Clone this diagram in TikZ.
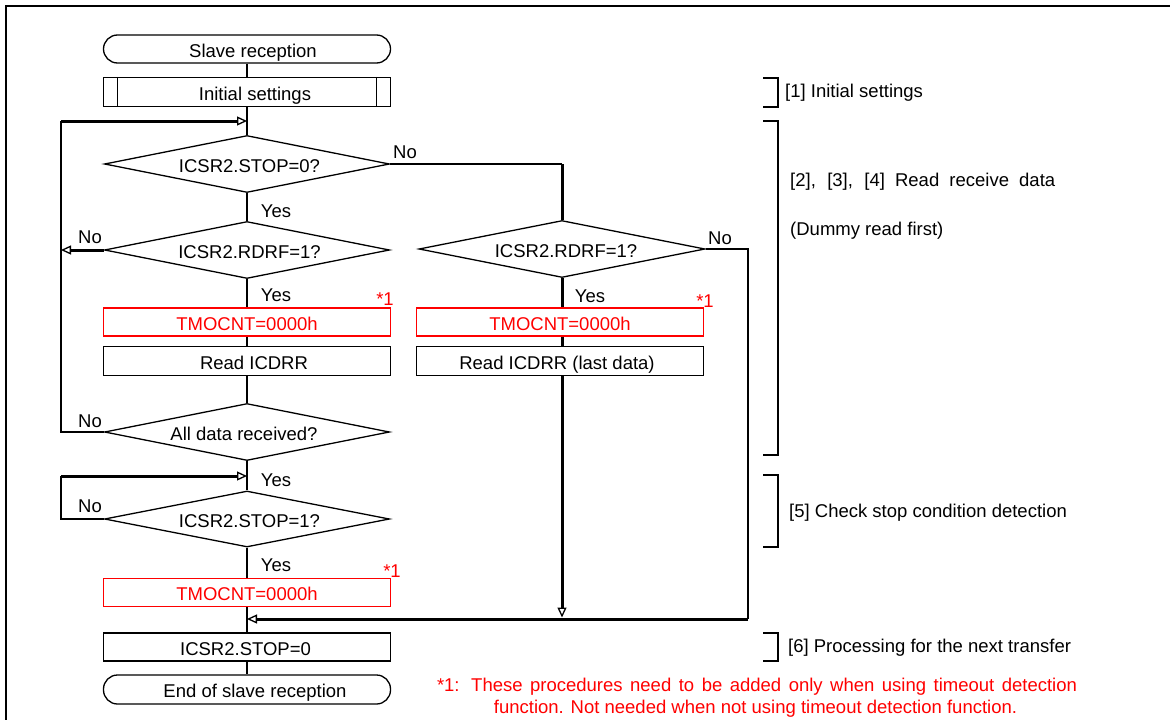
\documentclass[tikz,border=0pt]{standalone}
\usepackage{fontspec}
\setmainfont{Liberation Sans}
\usetikzlibrary{shapes.geometric,arrows.meta}
\definecolor{fnred}{RGB}{255,0,0}
\newcommand{\shiftr}[1]{\hspace*{#1pt}}
\begin{document}
\begin{tikzpicture}[x=1pt,y=-1pt,
  font=\fontsize{18.5pt}{22pt}\selectfont,
  conn/.style={line width=1.3pt},
  heavy/.style={line width=3pt},
  arr/.style={-{Triangle[open,length=10pt,width=9pt,line width=1.3pt]}},
  boxbase/.style={draw, line width=1.3pt, minimum width=287pt, minimum height=28pt, inner sep=0pt, text height=16pt, text depth=0pt},
  proc/.style={boxbase, rectangle},
  redproc/.style={boxbase, rectangle, draw=fnred, text=fnred},
  term/.style={boxbase, rectangle, rounded corners=14pt},
  decision/.style={draw, diamond, aspect=5, minimum width=285pt, minimum height=57pt, inner sep=0pt, line width=1.3pt, text height=16pt, text depth=0pt},
  lab/.style={inner sep=0pt, text height=13.3pt, text depth=0pt},
  brk/.style={line width=2pt}]
\useasboundingbox (0,0) rectangle (1170,720);
% frame
\draw[line width=2pt] (6,720) -- (6,6) -- (1170,6);

% main column
\node[term] (start) at (247,49) {\shiftr{12}Slave reception};
\node[proc, minimum height=29pt] (init) at (247,92) {\shiftr{16}Initial settings};
\draw[conn] ([xshift=14.5pt]init.north west) -- ([xshift=14.5pt]init.south west);
\draw[conn] ([xshift=-14.5pt]init.north east) -- ([xshift=-14.5pt]init.south east);
\node[decision] (d1) at (247,164) {\shiftr{5}ICSR2.STOP=0?};
\node[decision] (d2) at (247,250) {\shiftr{5}ICSR2.RDRF=1?};
\node[redproc] (red1) at (247,322) {TMOCNT=0000h};
\node[proc, minimum height=29pt] (read1) at (247,361) {\shiftr{14}Read ICDRR};
\node[decision] (d3) at (247,432) {All data received?\shiftr{6}};
\node[decision, minimum height=56pt] (d4) at (247,519) {\shiftr{5}ICSR2.STOP=1?};
\node[redproc] (red3) at (247,592.5) {TMOCNT=0000h};
\node[proc] (stop0) at (247,647) {ICSR2.STOP=0\shiftr{3}};
\node[term, minimum height=29pt] (end) at (247,689.5) {\shiftr{16}End of slave reception};

% right column
\node[decision, minimum width=286pt] (d2r) at (562,249) {\shiftr{8}ICSR2.RDRF=1?};
\node[redproc] (red2) at (560,322) {TMOCNT=0000h};
\node[proc, minimum height=29pt] (read2) at (560,361) {Read ICDRR (last data)\shiftr{6}};

% helper coordinates
\coordinate (L1) at (61,121);
\coordinate (J1) at (247,121);
\coordinate (L2) at (61,476);
\coordinate (J2) at (247,476);
\coordinate (M) at (247,619);
\coordinate (MR) at (748,619);
\coordinate (MC) at (562,617.5);

% main column connectors
\draw[conn] (start) -- (init);
\draw[conn] (init) -- (d1);
\draw[conn] (d1) -- (d2);
\draw[conn] (d2) -- (red1);
\draw[conn] (red1) -- (read1);
\draw[conn] (read1) -- (d3);
\draw[conn] (d3) -- (d4);
\draw[conn] (d4) -- (red3);
\draw[conn] (red3) -- (stop0);
\draw[conn] (stop0) -- (end);

% loops
\draw[conn] (d3.west) -| (L1);
\draw[heavy,arr] (L1) -- (J1);
\draw[heavy,arr] (d2.west) -- (d2.west -| L1);
\draw[conn] (d4.west) -| (L2);
\draw[heavy,arr] (L2) -- (J2);

% to right column
\draw[conn] (d1.east) -- (d1.east -| d2r.north);
\draw[heavy] (d1.east -| d2r.north) -- (d2r.north);
\draw[heavy] (d2r.south) -- (d2r.south |- red2.north);
\draw[heavy] (d2r.south |- red2.south) -- (d2r.south |- read2.north);
\draw[heavy,arr] (d2r.south |- read2.south) -- (MC);
\draw[conn] (d2r.east) -- (d2r.east -| MR) -- (MR);
\draw[heavy,arr] (MR) -- (M);

% yes / no labels
\node[lab] (n1) at (405,152) {No};
\node[lab] (y1) at (276,211) {Yes};
\node[lab] (n2) at (90,237) {No};
\node[lab] (y2) at (276,295) {Yes};
\node[lab] (n3) at (90,421) {No};
\node[lab] (y3) at (276,480) {Yes};
\node[lab] (n4) at (90,506) {No};
\node[lab] (y4) at (276,565) {Yes};
\node[lab] (n5) at (720,238) {No};
\node[lab] (y5) at (590,296) {Yes};

% *1 marks
\node[lab, text=fnred] (s1) at (385,299) {*1};
\node[lab, text=fnred] (s2) at (705,300.5) {*1};
\node[lab, text=fnred] (s3) at (392,570.5) {*1};

% brackets
\draw[brk] (763,78) -- (778,78) -- (778,107) -- (763,107);
\draw[brk] (763,121) -- (778,121) -- (778,455) -- (763,455);
\draw[brk] (763,475) -- (778,475) -- (778,547) -- (763,547);
\draw[brk] (763,633) -- (778,633) -- (778,661) -- (763,661);

\node[lab, anchor=west] (t1) at (785,91) {[1] Initial settings};
\node[lab, anchor=west] (t2) at (790,179.5) {\makebox[265pt][s]{[2], [3], [4] Read receive data}};
\node[lab, anchor=west] (t3) at (790,228.5) {(Dummy read first)};
\node[lab, anchor=west] (t5) at (789,510.5) {[5] Check stop condition detection};
\node[lab, anchor=west] (t6) at (788,646) {[6] Processing for the next transfer};

% footnote
\node[lab, text=fnred] (f1) at (757,685) {\makebox[640pt][s]{*1: These procedures need to be added only when using timeout detection}};
\node[lab, text=fnred] (f2) at (755.5,706.5) {function. Not needed when not using timeout detection function.};
\end{tikzpicture}
\end{document}
